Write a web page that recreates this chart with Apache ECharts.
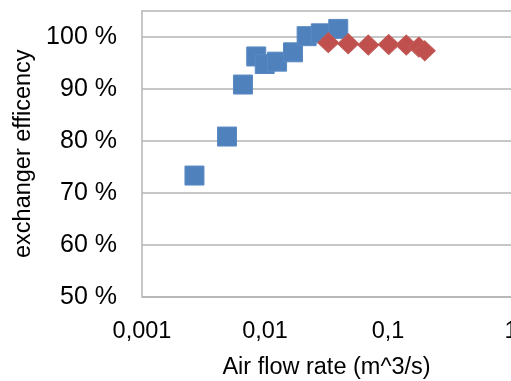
<!DOCTYPE html>
<html>
<head>
<meta charset="utf-8">
<script src="https://cdn.jsdelivr.net/npm/echarts@6/dist/echarts.min.js"></script>
<style>
  html, body {margin: 0; padding: 0; background: #fff;}
  #chart {width: 511px; height: 381px;}
</style>
</head>
<body>
<div id="chart"></div>
<script>
// air flow rate (m^3/s) vs exchanger efficiency (%)
const blueFlow = [0.00267, 0.00491, 0.00662, 0.00849, 0.00995, 0.01254, 0.0169, 0.0218, 0.0284, 0.0394];
const blueEff = [73.3, 80.8, 90.8, 96.2, 94.75, 95.2, 97.0, 100.1, 100.65, 101.5];
const redFlow = [0.0327, 0.0475, 0.0692, 0.1014, 0.141, 0.178, 0.199];
const redEff = [98.85, 98.65, 98.4, 98.5, 98.4, 98.0, 97.3];

const font = 'Liberation Sans, Arial, sans-serif';
const gridColor = '#b4b4b4';

const chart = echarts.init(document.getElementById('chart'));
chart.setOption({
  animation: false,
  grid: {left: 142, right: 0, top: 10.7, bottom: 84.3, outerBoundsMode: 'none', containLabel: false},
  xAxis: {
    type: 'log',
    logBase: 10,
    min: 0.001,
    max: 1,
    name: 'Air flow rate (m^3/s)',
    nameLocation: 'middle',
    nameGap: 59,
    nameTextStyle: {fontFamily: font, fontSize: 23.5, color: '#000'},
    axisLine: {lineStyle: {color: gridColor, width: 1.5}},
    axisTick: {show: false},
    splitLine: {show: false},
    axisLabel: {
      fontFamily: font, fontSize: 23.5, color: '#000', margin: 23,
      alignMaxLabel: 'center',
      hideOverlap: false,
      formatter(v) {
        return String(+v.toPrecision(3)).replace('.', ',');
      }
    }
  },
  yAxis: {
    type: 'value',
    min: 50,
    max: 105,
    interval: 10,
    name: 'exchanger efficency',
    nameLocation: 'middle',
    nameGap: 106,
    nameTextStyle: {fontFamily: font, fontSize: 23.5, color: '#000'},
    axisLine: {show: true, lineStyle: {color: gridColor, width: 1.5}},
    axisTick: {show: false},
    splitLine: {lineStyle: {color: gridColor, width: 1.5}},
    axisLabel: {
      fontFamily: font, fontSize: 25, color: '#000', margin: 25,
      showMaxLabel: false,
      formatter: v => v + ' %'
    }
  },
  series: [{
    type: 'scatter',
    symbol: 'rect',
    symbolSize: 19,
    data: blueFlow.map((f, i) => [f, blueEff[i]]),
    itemStyle: {color: '#4F81BD', borderColor: '#5a8ac4', borderWidth: 1, opacity: 1}
  }, {
    type: 'scatter',
    symbol: 'diamond',
    symbolSize: [21, 20],
    data: redFlow.map((f, i) => [f, redEff[i]]),
    itemStyle: {color: '#C0504D', borderColor: '#c05a57', borderWidth: 1, opacity: 1}
  }]
});
</script>
</body>
</html>
